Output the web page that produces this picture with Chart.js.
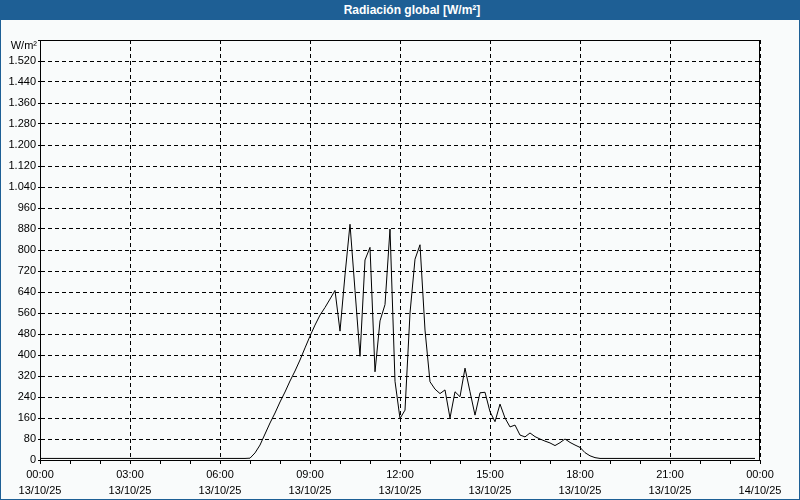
<!DOCTYPE html>
<html>
<head>
<meta charset="utf-8">
<script src="https://cdn.jsdelivr.net/npm/chart.js@4/dist/chart.umd.min.js"></script>
<style>
  html, body { margin: 0; padding: 0; background: #f9fbfb; }
  #frame {
    position: relative; width: 800px; height: 500px; box-sizing: border-box;
    border: 1px solid #1e5f95; border-top: none; background: #f9fbfb; overflow: hidden;
  }
  #titlebar {
    position: absolute; left: -1px; top: 0; width: 800px; height: 20px; box-sizing: border-box;
    padding-left: 24px;
    background: #1e5f95; color: #fff; text-align: center;
    font: bold 12px "Liberation Sans", Arial, sans-serif; line-height: 21px;
  }
  #chart { position: absolute; left: 0; top: 20px; }
</style>
</head>
<body>
<div id="frame">
  <div id="titlebar">Radiación global [W/m²]</div>
  <canvas id="chart" width="798" height="479"></canvas>
</div>
<script>
// Global radiation, one reading every 10 minutes, 13/10/25 00:00 -> 23:50 (W/m²)
var radiation = [
  6, 6, 6, 6, 6, 6, 6, 6, 6, 6, 6, 6,                 // 00:00 - 01:50
  6, 6, 6, 6, 6, 6, 6, 6, 6, 6, 6, 6,                 // 02:00 - 03:50
  6, 6, 6, 6, 6, 6, 6, 6, 6, 6, 6, 6,                 // 04:00 - 05:50
  6, 6, 6, 6, 6, 6, 7, 27, 57, 99, 141, 179,          // 06:00 - 07:50
  221, 259, 301, 339, 381, 427, 472, 514, 552, 581, 613, 646, // 08:00 - 09:50
  491, 705, 898, 646, 395, 762, 810, 336, 530, 592, 880, 300, // 10:00 - 11:50
  158, 190, 560, 765, 820, 495, 298, 270, 253, 267, 160, 260, // 12:00 - 13:50
  241, 350, 260, 171, 256, 258, 184, 146, 213, 160, 126, 133, // 14:00 - 15:50
  95, 88, 103, 89, 80, 72, 65, 55, 66, 80, 67, 57,    // 16:00 - 17:50
  48, 28, 16, 9, 6, 6, 6, 6, 6, 6, 6, 6,              // 18:00 - 19:50
  6, 6, 6, 6, 6, 6, 6, 6, 6, 6, 6, 6,                 // 20:00 - 21:50
  6, 6, 6, 6, 6, 6, 6, 6, 6, 6, 6, 6                  // 22:00 - 23:50
];
var stepMinutes = 10;
var tickTimes = ['00:00', '03:00', '06:00', '09:00', '12:00', '15:00', '18:00', '21:00', '00:00'];
var tickDates = ['13/10/25', '13/10/25', '13/10/25', '13/10/25', '13/10/25', '13/10/25', '13/10/25', '13/10/25', '14/10/25'];
var yMax = 1600;
var yStep = 80;
var unitLabel = 'W/m²';

var points = radiation.map(function (v, i) {
  return { x: i * stepMinutes / 60, y: v };
});

var fontFamily = '"Liberation Sans", Arial, sans-serif';

// Frame box around the plot plus the unit label above the y ticks.
var frameBox = {
  id: 'frameBox',
  afterDraw: function (chart) {
    var ctx = chart.ctx, a = chart.chartArea;
    ctx.save();
    ctx.strokeStyle = '#000';
    ctx.lineWidth = 1;
    ctx.setLineDash([]);
    ctx.strokeRect(Math.round(a.left) + 0.5, Math.round(a.top) + 0.5,
      Math.round(a.right - a.left) - 1, Math.round(a.bottom - a.top));
    ctx.fillStyle = '#000';
    ctx.font = '11px ' + fontFamily;
    ctx.textAlign = 'right';
    ctx.textBaseline = 'middle';
    ctx.fillText(unitLabel, a.left - 3, a.top + 6);
    ctx.restore();
  }
};

new Chart(document.getElementById('chart'), {
  type: 'line',
  data: {
    datasets: [{
      data: points,
      borderColor: '#000',
      borderWidth: 1,
      pointRadius: 0,
      tension: 0,
      fill: false
    }]
  },
  options: {
    responsive: false,
    devicePixelRatio: 1,
    animation: false,
    layout: { padding: { top: 20, right: 39, left: 0, bottom: 0 } },
    plugins: {
      legend: { display: false },
      tooltip: { enabled: false }
    },
    scales: {
      x: {
        type: 'linear',
        min: 0,
        max: 24,
        afterFit: function (s) { s.height = 39; },
        // border.dash is what v4 uses for the grid line dashes
        border: { display: true, color: '#000', width: 1, dash: [4, 3] },
        grid: {
          color: function (c) {
            return c.tick && c.tick.value % 3 === 0 ? '#000' : 'rgba(0,0,0,0)';
          },
          tickColor: '#000',
          tickBorderDash: [],
          tickLength: 4,
          lineWidth: 1
        },
        ticks: {
          stepSize: 1,
          autoSkip: false,
          maxRotation: 0,
          padding: 3,
          color: '#000',
          font: { family: fontFamily, size: 11, lineHeight: 1.45 },
          callback: function (value) {
            if (value % 3 !== 0) { return ''; }
            return [tickTimes[value / 3], tickDates[value / 3]];
          }
        }
      },
      y: {
        min: 0,
        max: yMax,
        afterFit: function (s) { s.width = 39; },
        border: { display: true, color: '#000', width: 1, dash: [4, 3] },
        grid: {
          color: '#000',
          tickBorderDash: [],
          tickLength: 2,
          lineWidth: 1
        },
        ticks: {
          stepSize: yStep,
          autoSkip: false,
          padding: 2,
          color: '#000',
          font: { family: fontFamily, size: 11 },
          callback: function (value) {
            if (value >= yMax) { return ''; }
            if (value >= 1000) {
              return Math.floor(value / 1000) + '.' + String(value % 1000).padStart(3, '0');
            }
            return String(value);
          }
        }
      }
    }
  },
  plugins: [frameBox]
});
</script>
</body>
</html>
